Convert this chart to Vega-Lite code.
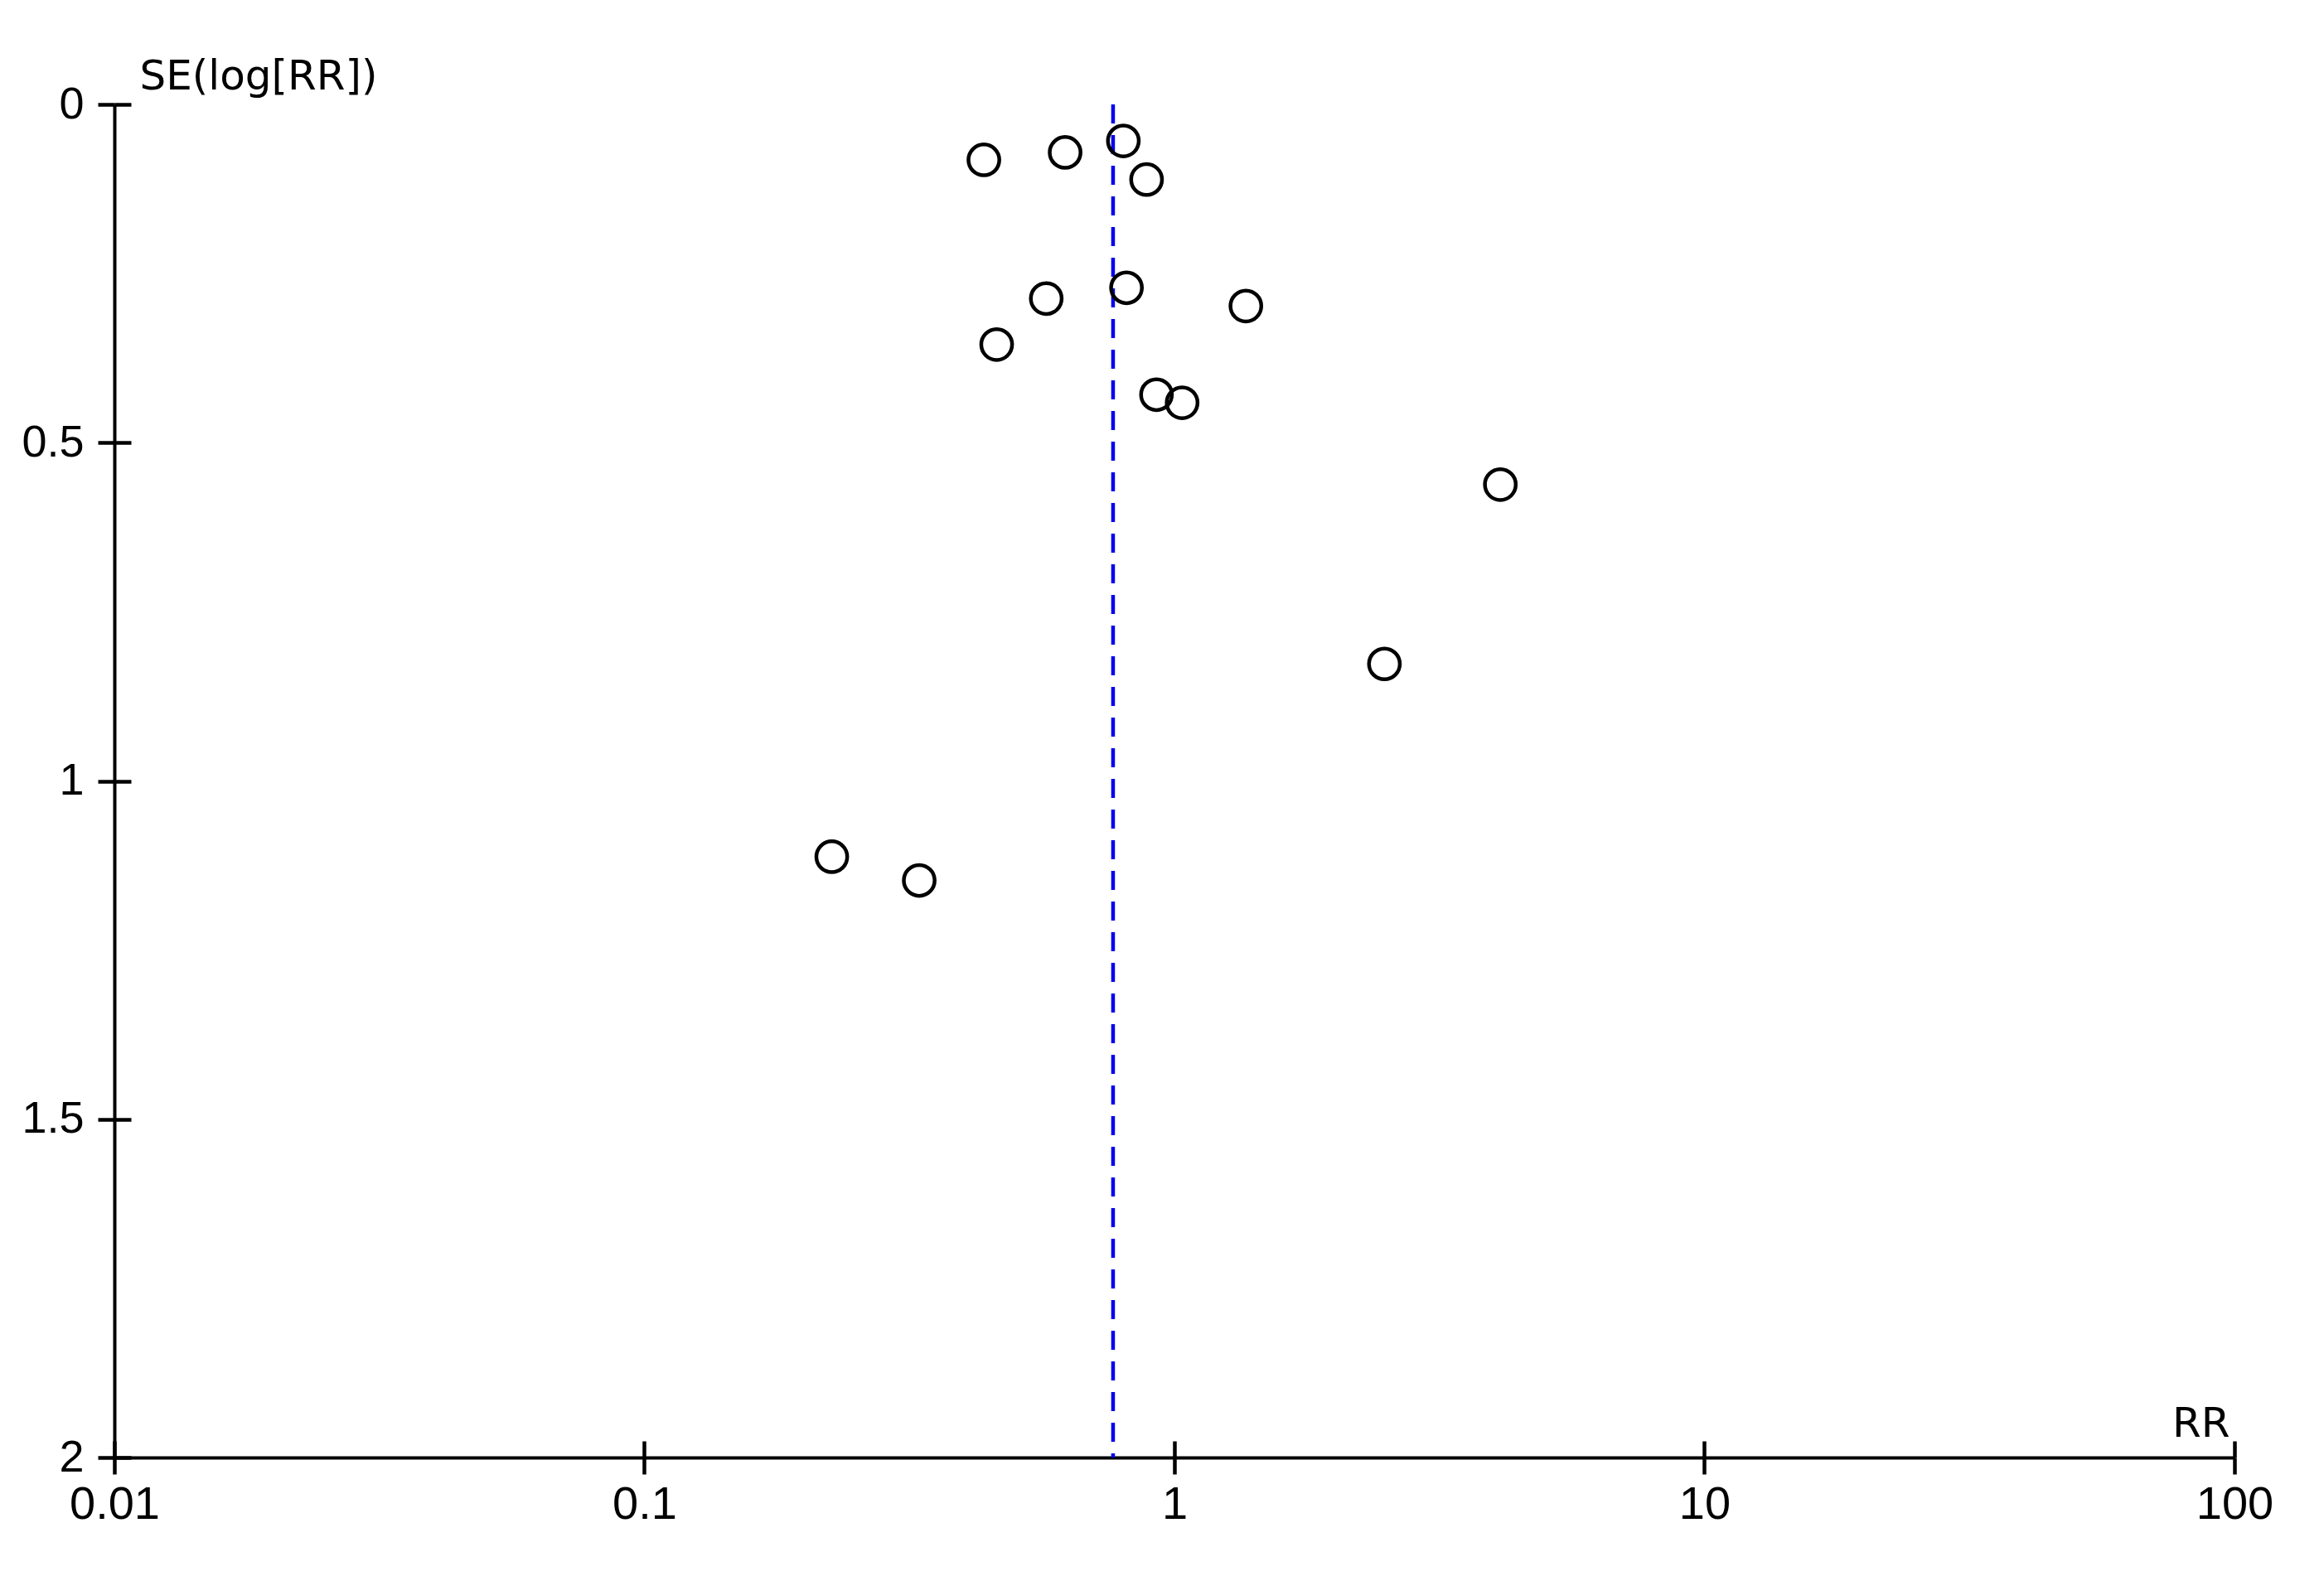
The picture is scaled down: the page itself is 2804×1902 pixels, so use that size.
{
  "$schema": "https://vega.github.io/schema/vega-lite/v6.json",
  "width": 2558,
  "height": 1633,
  "autosize": {"type": "none"},
  "padding": {"left": 138, "top": 126, "right": 108, "bottom": 143},
  "background": "white",
  "config": {"view": {"stroke": null}},
  "datasets": {
    "studies": [
      {"rr": 0.437, "se": 0.082},
      {"rr": 0.622, "se": 0.071},
      {"rr": 0.801, "se": 0.054},
      {"rr": 0.886, "se": 0.111},
      {"rr": 0.573, "se": 0.287},
      {"rr": 0.812, "se": 0.271},
      {"rr": 1.364, "se": 0.298},
      {"rr": 0.462, "se": 0.355},
      {"rr": 0.925, "se": 0.429},
      {"rr": 1.034, "se": 0.441},
      {"rr": 4.12, "se": 0.562},
      {"rr": 2.49, "se": 0.827},
      {"rr": 0.2257, "se": 1.112},
      {"rr": 0.330, "se": 1.147}
    ],
    "pooled": [{"rr": 0.766}]
  },
  "layer": [
    {
      "data": {"name": "pooled"},
      "mark": {"type": "rule", "color": "#0000ee", "strokeWidth": 4.5, "strokeDash": [23, 14]},
      "encoding": {
        "x": {"field": "rr", "type": "quantitative", "scale": {"type": "log", "domain": [0.01, 100], "nice": false}, "axis": null}
      }
    },
    {
      "data": {"name": "studies"},
      "mark": {"type": "point", "shape": "circle", "filled": false, "size": 1385, "color": "black", "strokeWidth": 4.5, "opacity": 1},
      "encoding": {
        "x": {
          "field": "rr", "type": "quantitative",
          "scale": {"type": "log", "domain": [0.01, 100], "nice": false},
          "axis": {
            "orient": "bottom",
            "values": [0.01, 0.1, 1, 10, 100],
            "labelExpr": "'' + datum.value",
            "grid": false,
            "domainColor": "black", "domainWidth": 4,
            "tickColor": "black", "tickWidth": 4.5, "tickSize": 20,
            "labelFont": "'Liberation Sans Narrow', 'Liberation Sans', sans-serif",
            "labelFontSize": 56, "labelColor": "black", "labelPadding": 9,
            "labelBaseline": "top", "labelOverlap": false, "labelFlush": false,
            "title": "RR",
            "titleFont": "DejaVu Sans", "titleFontSize": 50, "titleFontWeight": "normal", "titleColor": "black",
            "titleAngle": 0, "titleAlign": "right", "titleBaseline": "alphabetic",
            "titleX": 2552, "titleY": -26
          }
        },
        "y": {
          "field": "se", "type": "quantitative",
          "scale": {"domain": [0, 2], "reverse": true, "nice": false, "zero": false},
          "axis": {
            "orient": "left",
            "values": [0, 0.5, 1, 1.5, 2],
            "labelExpr": "'' + datum.value",
            "grid": false,
            "domainColor": "black", "domainWidth": 4,
            "tickColor": "black", "tickWidth": 4.5, "tickSize": 20,
            "labelFont": "'Liberation Sans Narrow', 'Liberation Sans', sans-serif",
            "labelFontSize": 54, "labelColor": "black", "labelPadding": 17,
            "labelOverlap": false, "labelFlush": false,
            "title": "SE(log[RR])",
            "titleFont": "DejaVu Sans", "titleFontSize": 50, "titleFontWeight": "normal", "titleColor": "black",
            "titleAngle": 0, "titleAlign": "left", "titleBaseline": "alphabetic",
            "titleX": 30, "titleY": -19
          }
        }
      }
    },
    {
      "data": {"name": "studies"},
      "mark": {"type": "point", "opacity": 0},
      "encoding": {
        "x": {
          "field": "rr", "type": "quantitative",
          "scale": {"type": "log", "domain": [0.01, 100], "nice": false},
          "axis": {"orient": "bottom", "offset": -20, "values": [0.01, 0.1, 1, 10, 100], "labels": false, "domain": false, "grid": false, "title": null, "tickColor": "black", "tickWidth": 4.5, "tickSize": 20}
        },
        "y": {
          "field": "se", "type": "quantitative",
          "scale": {"domain": [0, 2], "reverse": true, "nice": false, "zero": false},
          "axis": {"orient": "left", "offset": -20, "values": [0, 0.5, 1, 1.5, 2], "labels": false, "domain": false, "grid": false, "title": null, "tickColor": "black", "tickWidth": 4.5, "tickSize": 20}
        }
      }
    }
  ],
  "resolve": {"axis": {"x": "independent", "y": "independent"}}
}
